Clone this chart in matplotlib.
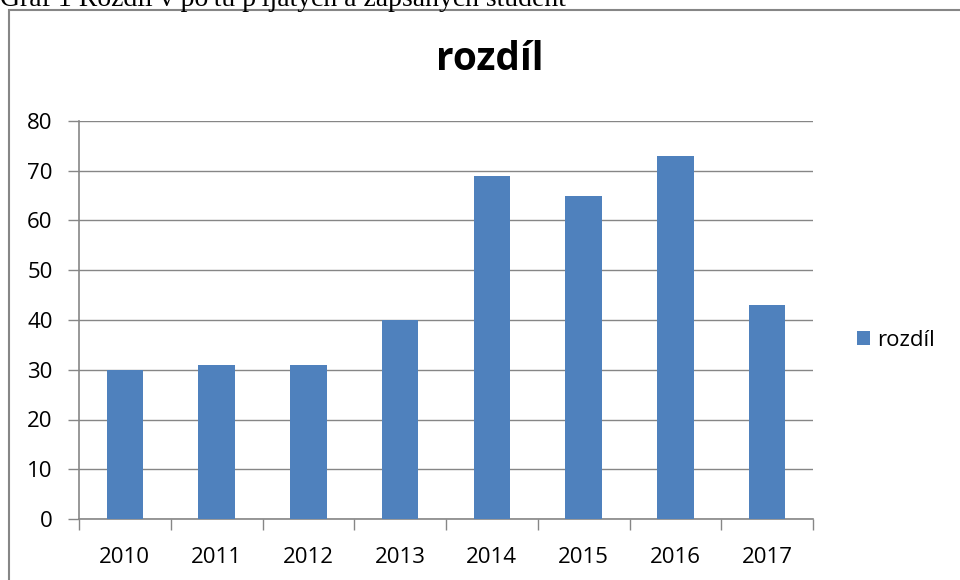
import matplotlib
matplotlib.use("Agg")
import matplotlib.pyplot as plt
from matplotlib.patches import Rectangle
import numpy as np

years = ["2010", "2011", "2012", "2013", "2014", "2015", "2016", "2017"]
rozdil = [30, 31, 31, 40, 69, 65, 73, 43]
series_name = "rozdíl"
title = "rozdíl"
caption = "Graf 1 Rozdíl v po\u2009tu p\u2009ijatých a zapsaných student"

W, H = 960, 580
fig = plt.figure(figsize=(W / 100, H / 100), dpi=100)
fig.patch.set_facecolor("white")

grey = "#868686"
blue = "#4F81BD"

# chart frame (cut off at right/bottom)
fig.patches.append(Rectangle((9 / W, -0.1), 1.2, (H - 10) / H + 0.1,
                             transform=fig.transFigure, fill=False,
                             edgecolor=grey, linewidth=1.5))

# cut-off caption above
fig.text(0 / W, 1 - 6 / H, caption, family="Liberation Serif", fontsize=20,
         va="baseline", ha="left", color="black")

ax = fig.add_axes([79 / W, 1 - 519 / H, (813 - 79) / W, (519 - 121) / H])
x = np.arange(len(years))
ax.bar(x, rozdil, width=0.4, color=blue, label=series_name, zorder=3)
ax.set_xlim(-0.5, len(years) - 0.5)
ax.set_ylim(0, 80)
ax.set_yticks(range(0, 81, 10))
ax.yaxis.grid(True, color=grey, linewidth=1, zorder=0)
ax.set_xticks(np.arange(-0.5, len(years), 1.0), minor=False)
ax.set_xticklabels([])
ax.set_xticks(x, minor=True)
ax.set_xticklabels(years, minor=True, fontsize=16, family="Open Sans")
ax.tick_params(axis="x", which="minor", length=0, pad=20)
ax.tick_params(axis="x", which="major", length=8, color=grey, direction="out", width=1)
ax.tick_params(axis="y", length=8, color=grey, direction="out", width=1, pad=11)
for lab in ax.get_yticklabels():
    lab.set_fontsize(16)
    lab.set_family("Open Sans")
for s in ["top", "right"]:
    ax.spines[s].set_visible(False)
for s in ["left", "bottom"]:
    ax.spines[s].set_color(grey)
    ax.spines[s].set_linewidth(1.2)

fig.text(490 / W, 1 - 60 / H, title, fontsize=28, fontweight="bold",
         family="Open Sans", ha="center", va="center")

fig.legend(loc="center left", bbox_to_anchor=(837 / W, 1 - 340 / H),
           frameon=False, prop={"family": "Open Sans", "size": 16},
           handlelength=0.6, handleheight=0.6, handletextpad=0.3)

fig.savefig("out.png", dpi=100)
